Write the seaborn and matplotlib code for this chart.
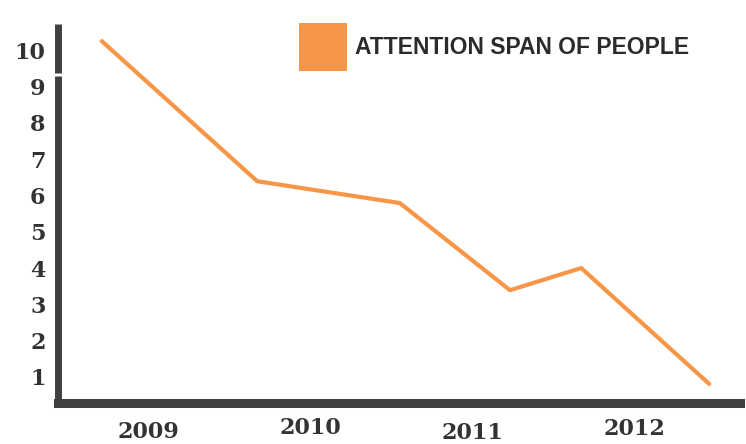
import matplotlib
matplotlib.use('Agg')
import pandas as pd
import seaborn as sns
import matplotlib.pyplot as plt
import matplotlib.transforms as mtransforms
from matplotlib.patches import Patch

# valores
anos = [2008.71, 2009.67, 2010.55, 2011.23, 2011.67, 2012.46]
atencao = [10.25, 6.39, 5.79, 3.39, 4.00, 0.81]
ticks_x = [2009, 2010, 2011, 2012]
rotulos_x = ['2009', '2010', '2011', '2012']
ticks_y = [1, 2, 3, 4, 5, 6, 7, 8, 9, 10]
serie = 'ATTENTION SPAN OF PEOPLE'

df = pd.DataFrame({'Ano': anos, 'Atencao': atencao})

laranja = '#F79646'
cinza = '#404040'

sns.set_theme(style='white')
fig = plt.figure(figsize=(7.46, 4.44), dpi=100)
ax = fig.add_axes([58 / 746, 41 / 444, 682 / 746, 379 / 444])

sns.lineplot(data=df, x='Ano', y='Atencao', color=laranja, linewidth=3, ax=ax, legend=False)

ax.set_xlim(2008.44, 2012.65)
ax.set_ylim(0.284, 10.72)

# eixos grossos, com o pequeno corte no eixo y
for lado in ['top', 'right']:
    ax.spines[lado].set_visible(False)
ax.spines['bottom'].set_linewidth(6.5)
ax.spines['bottom'].set_color(cinza)
ax.spines['bottom'].set_capstyle('projecting')
ax.spines['left'].set_linewidth(5)
ax.spines['left'].set_color(cinza)
ax.spines['left'].set_capstyle('butt')
ax.spines['left'].set_bounds(0.20, 9.30)
ax.axvline(2008.44, ymin=0.871, ymax=1.0, color=cinza, linewidth=5, clip_on=False,
           solid_capstyle='butt')

ax.set_xticks(ticks_x)
ax.set_xticklabels(rotulos_x)
ax.set_yticks(ticks_y)
ax.set_yticklabels([str(v) for v in ticks_y])
ax.tick_params(axis='both', length=0, labelsize=16, labelcolor='#333333')
ax.tick_params(axis='y', pad=9)
ax.tick_params(axis='x', pad=12)
for rotulo in ax.get_xticklabels() + ax.get_yticklabels():
    rotulo.set_fontfamily('DejaVu Serif')
    rotulo.set_fontweight('bold')

# os anos ficam um pouco desalinhados, como no desenho original
desvios = [-1, 2, -2, 1]
for rotulo, d in zip(ax.get_xticklabels(), desvios):
    rotulo.set_transform(rotulo.get_transform() +
                         mtransforms.ScaledTranslation(0, d / 72, fig.dpi_scale_trans))

ax.set_xlabel('')
ax.set_ylabel('')

alca = Patch(facecolor=laranja, edgecolor='none', label=serie)
ax.legend(handles=[alca], loc='upper left', bbox_to_anchor=(299 / 746, 1 - 23 / 444),
          bbox_transform=fig.transFigure, frameon=False, borderpad=0, borderaxespad=0,
          handlelength=2.09, handleheight=2.85, handletextpad=0.35, labelcolor='#2b2b2b',
          prop={'family': 'Liberation Sans', 'weight': 'bold', 'size': 16.5})

plt.savefig('out.png', dpi=100)
